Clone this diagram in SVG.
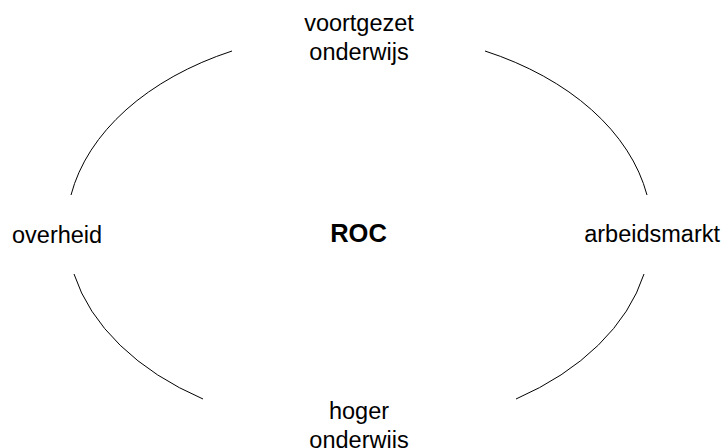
<svg xmlns="http://www.w3.org/2000/svg" width="723" height="448" viewBox="0 0 723 448">
<style>
.lbl{font-family:"Liberation Sans",Arial,sans-serif;font-size:23.5px;fill:#000;}
.ctr{text-anchor:middle;}
.roc{font-family:"Liberation Sans",Arial,sans-serif;font-size:25.5px;font-weight:bold;fill:#000;text-anchor:middle;}
.arc{fill:none;stroke:#000;stroke-width:1;}
</style>
<rect width="723" height="448" fill="#fff"/>
<g id="connectors">
<path class="arc" d="M232,51 A293,199 0 0 0 71,195"/>
<path class="arc" d="M485,51 A293,199 0 0 1 647,195"/>
<path class="arc" d="M74,274 A293,199 0 0 0 203,399"/>
<path class="arc" d="M644,274 A293,199 0 0 1 516,399"/>
</g>
<g id="roc"><text class="roc" x="358.5" y="242">ROC</text></g>
<g id="voortgezet-onderwijs"><text class="lbl ctr" x="359" y="31">voortgezet</text><text class="lbl ctr" x="359" y="60">onderwijs</text></g>
<g id="overheid"><text class="lbl" x="12" y="243">overheid</text></g>
<g id="arbeidsmarkt"><text class="lbl" x="720" y="242" text-anchor="end">arbeidsmarkt</text></g>
<g id="hoger-onderwijs"><text class="lbl ctr" x="359" y="419">hoger</text><text class="lbl ctr" x="359" y="448">onderwijs</text></g>
</svg>
